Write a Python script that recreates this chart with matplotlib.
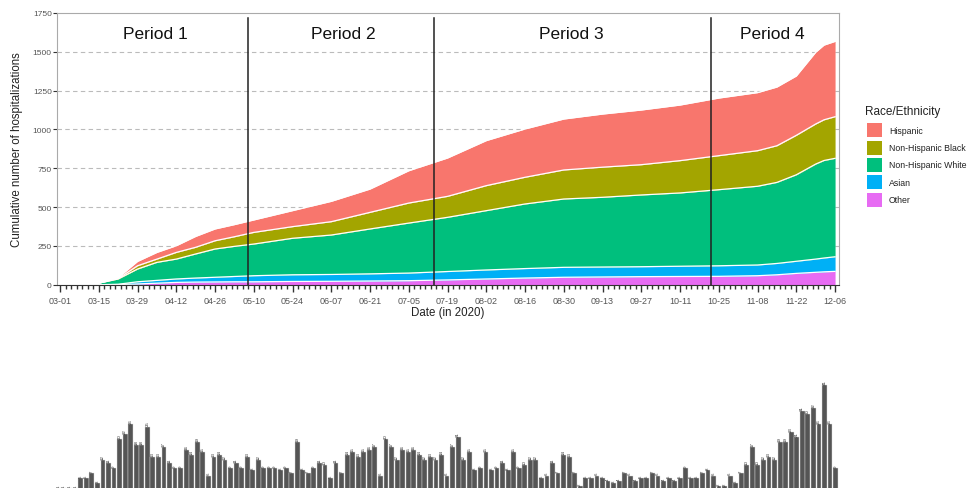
import numpy as np
import pandas as pd
import matplotlib
matplotlib.use('Agg')
import matplotlib.pyplot as plt
from matplotlib.patches import Rectangle

plt.rcParams['font.family'] = ['Liberation Sans', 'DejaVu Sans']

# 累计住院人数（按族裔，读图估计）
dates = ['03-01', '03-12', '03-15', '03-22', '03-29', '04-05', '04-12', '04-19',
         '04-26', '05-03', '05-10', '05-24', '06-07', '06-21', '07-05', '07-19',
         '08-02', '08-16', '08-30', '09-13', '09-27', '10-11', '10-25', '11-08',
         '11-15', '11-22', '11-29', '12-02', '12-06']
other = [0, 0, 0, 1, 5, 10, 15, 17, 18, 19, 19, 21, 22, 24, 26, 31, 37, 43, 48,
         50, 52, 53, 54, 58, 64, 73, 80, 83, 86]
asian = [0, 0, 0, 2, 14, 18, 22, 26, 30, 34, 39, 43, 44, 46, 49, 54, 58, 61, 64,
         64, 64, 66, 68, 69, 73, 78, 85, 89, 94]
white = [0, 0, 10, 34, 82, 116, 128, 155, 182, 194, 204, 235, 254, 289, 322, 349,
         382, 416, 440, 449, 462, 472, 490, 507, 522, 557, 612, 628, 634]
black = [0, 0, 0, 3, 21, 21, 43, 43, 53, 62, 75, 75, 86, 107, 129, 135, 161, 172,
         187, 194, 195, 208, 219, 229, 236, 254, 258, 262, 268]
hispanic = [0, 0, 0, 5, 28, 43, 43, 70, 76, 78, 80, 103, 131, 150, 208, 247, 290,
            311, 328, 342, 352, 358, 371, 374, 378, 382, 462, 481, 485]

groups = ['Hispanic', 'Non-Hispanic Black', 'Non-Hispanic White', 'Asian', 'Other']
colors = ['#F8766D', '#A3A500', '#00BF7D', '#00B0F6', '#E76BF3']

period_names = ['Period 1', 'Period 2', 'Period 3', 'Period 4']
period_breaks = ['05-08', '07-14', '10-22']

# 每根柱子的住院人数
daily = [1, 1, 1, 1,
         5, 5, 7, 3, 12, 11, 9, 20, 22, 26, 18, 18, 25, 13, 13, 17, 11, 9, 9, 16,
         14, 19, 15, 6, 13, 14, 12, 9, 11, 9, 13, 8, 12, 9, 9, 9, 8, 9, 7, 19, 8,
         7, 9, 11, 10,
         5, 11, 7, 14, 15, 13, 15, 16, 17, 6, 20, 17, 12, 16, 15, 16, 14, 12, 13,
         12, 14, 6, 17, 21, 12, 15, 8, 9, 15, 8, 9, 11, 8, 15, 9, 10, 12, 12, 5, 6,
         11, 7, 14, 13, 7, 2, 5, 5, 6, 5, 4, 3, 4, 7, 6, 4, 5, 5,
         7, 6, 4, 5, 4, 5, 9, 5, 5, 7, 8, 6, 2, 2, 6, 3, 7, 10, 17, 10, 12, 13, 12,
         19, 19, 23, 21, 31, 30, 32, 26, 41, 26, 9]


def day_num(s):
    return (pd.Timestamp('2020-' + s) - pd.Timestamp('2020-03-01')).days


x = np.array([day_num(d) for d in dates])

W, H = 971, 489
fig = plt.figure(figsize=(W / 100, H / 100), dpi=100)

# 上图：累计堆积面积
ax = fig.add_axes([0.059, 0.4157, 0.805, 0.5557])
ys = [np.array(other), np.array(asian), np.array(white), np.array(black), np.array(hispanic)]
cols = colors[::-1]
base = np.zeros(len(x))
for yv, c in zip(ys, cols):
    ax.fill_between(x, base, base + yv, color=c, linewidth=0)
    base = base + yv
    ax.plot(x, base, color='white', linewidth=0.9)

ax.set_xlim(-1, 281.4)
ax.set_ylim(0, 1750)
for yy in [250, 500, 750, 1000, 1250, 1500]:
    ax.axhline(yy, color='#bbbbbb', linestyle=(0, (4, 3)), linewidth=0.8, zorder=0)

for b in period_breaks:
    ax.plot([day_num(b)] * 2, [0, 1720], color='#222222', linewidth=1.1)

px = [155, 343, 571, 772]
for name, p in zip(period_names, px):
    ax.text((p - 57.3) / 781.7, 0.925, name, transform=ax.transAxes,
            ha='center', va='center', fontsize=12.5, color='#111111')

major = np.arange(0, 281, 14)
ax.set_xticks(major)
ax.set_xticklabels([(pd.Timestamp('2020-03-01') + pd.Timedelta(days=int(d))).strftime('%m-%d')
                    for d in major])
ax.set_xticks(np.arange(0, 281, 2), minor=True)
ax.set_yticks(np.arange(0, 1751, 250))
ax.tick_params(axis='x', which='major', length=5, width=1, color='#333333',
               labelsize=6.5, labelcolor='#555555', pad=3)
ax.tick_params(axis='x', which='minor', length=3, width=1, color='#333333')
ax.tick_params(axis='y', length=3, width=0.8, color='#333333',
               labelsize=6, labelcolor='#555555', pad=1)
for s in ['top', 'right', 'left']:
    ax.spines[s].set_color('#aaaaaa')
ax.spines['bottom'].set_color('#333333')
ax.set_xlabel('Date (in 2020)', fontsize=8.3, color='#222222', labelpad=1)
ax.set_ylabel('Cumulative number of hospitalizations', fontsize=8.3, color='#222222',
              labelpad=7)

# 图例（手动放置）
fig.text(865 / W, 1 - 112.5 / H, 'Race/Ethnicity', fontsize=8.5, color='#222222',
         ha='left', va='center')
for k, (g, c) in enumerate(zip(groups, colors)):
    yc = 131.3 + 17.3 * k
    fig.patches.append(Rectangle((867 / W, 1 - (yc + 7) / H), 14.5 / W, 14 / H,
                                 transform=fig.transFigure, facecolor=c,
                                 edgecolor='none'))
    fig.text(889 / W, 1 - yc / H, g, fontsize=6.3, color='#222222',
             ha='left', va='center')

# 下图：柱状图（底部被裁掉）
ax2 = fig.add_axes([0.059, -0.00613, 0.805, 0.2374])
idx = np.arange(len(daily))
ax2.bar(idx, daily, width=0.87, color='#555555', edgecolor='#dddddd', linewidth=0.3)
for i, v in zip(idx, daily):
    ax2.text(i, v + 0.4, str(v), rotation=90, ha='center', va='bottom',
             fontsize=3.2, color='#333333')
ax2.set_xlim(-0.22, 140.6)
ax2.set_ylim(0, 45)
ax2.axis('off')

fig.savefig('out.png', dpi=100)
